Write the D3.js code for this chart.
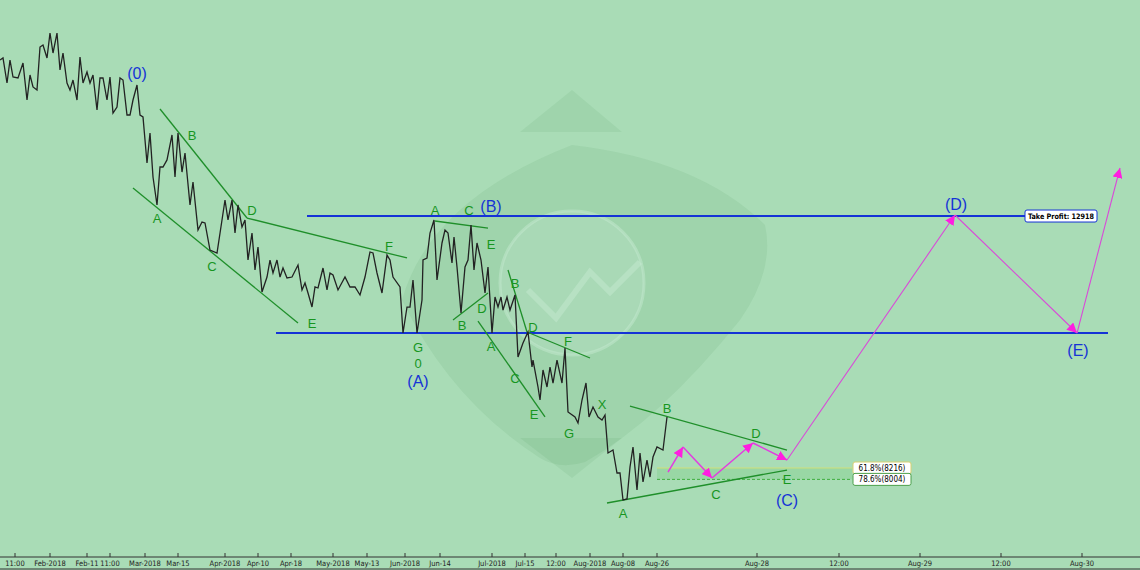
<!DOCTYPE html>
<html><head><meta charset="utf-8">
<script src="https://cdn.jsdelivr.net/npm/d3@7"></script>
<style>body{margin:0;background:#a9dcb6;overflow:hidden}</style>
</head><body>
<script>
var w = 1140, h = 570;

// price path: bar index and close
var bars = [0,3,7,10,13,18,23,27,30,33,37,40,43,47,50,53,57,60,63,67,70,73,77,80,83,87,90,93,97,100,103,107,110,113,117,120,123,127,130,133,137,140,143,147,150,153,157,160,163,167,172,175,178,182,185,190,193,198,202,205,210,217,222,225,228,232,235,238,242,245,248,252,255,258,262,267,270,273,277,280,283,287,292,298,302,305,308,312,315,318,323,327,330,333,338,345,350,355,360,365,370,373,377,382,387,390,393,400,403,407,410,413,417,422,423,427,430,434,437,442,445,448,452,454,457,461,465,468,471,474,477,481,485,488,492,495,498,501,503,507,510,515,518,523,528,532,533,538,540,543,547,550,553,557,562,565,568,575,578,582,586,589,593,598,602,605,608,613,617,620,623,627,630,633,637,640,643,647,650,653,657,663,667];
var closes = [15829,15867,15400,15829,15512,15494,15773,15083,15550,15326,15270,16072,16109,15867,16333,15960,16333,15643,15960,15400,15270,15456,15083,15885,15400,15606,15400,15550,14896,15494,15494,15083,15512,14840,14952,15494,15456,14803,14803,15083,15363,14803,14766,13907,14467,13646,13124,13833,13833,13965,14430,13646,14467,13739,14094,13124,13553,12657,12806,12788,12284,12228,12844,13217,12844,13217,12601,13124,12713,12844,12097,12601,11911,12340,11500,11780,12097,11855,12097,11780,11948,11762,11780,12004,11538,11668,11482,11220,11594,11575,11948,11538,11855,11818,11538,11780,11594,11594,11444,11780,12247,12228,11855,11482,12190,12097,11780,11594,10735,11220,11220,11724,10735,11351,12097,12135,12601,12844,11724,12415,12657,12601,12041,12527,11967,11108,11967,12097,12751,11911,12415,12097,11482,11967,10735,11407,11220,11407,11164,11407,11164,11444,10287,10549,10754,10101,10231,9728,9485,10045,9728,10101,9802,10231,9802,10455,9261,9168,9056,9485,9802,9168,9354,9168,9112,9205,8496,8552,8123,8123,7619,7638,8235,8608,7806,8496,7955,8365,8048,8421,8608,8552,9168,8309];

// green trend lines [bar1, price1, bar2, price2]
var greenLines = [
  [160,14915,247,12881],[133,13441,298,10922],[247,12881,407,12135],
  [435,12825,488,12694],[453,10978,488,11482],[478,10959,545,9168],
  [508,11911,527,10754],[527,10754,590,10269],[630,9373,787,8552],[607,7563,787,8178]
];
var blueLines = [[307,1025,12918],[276,1108,10735]];
var waveLabels = [["B",192,14430],["A",157,12881],["D",252,13031],["C",212,11985],["E",312,10922],["F",389,12359],
  ["G",418,10474],["0",418,10176],["A",435,13031],["C",469,13031],["E",491,12396],["B",462,10885],["D",482,11202],
  ["A",491,10493],["B",515,11668],["D",533,10847],["F",568,10586],["C",515,9896],["E",534,9224],["G",569,8869],
  ["X",602,9410],["B",667,9336],["D",756,8869],["E",787,8004],["C",716,7731],["A",623,7376]];
var degreeLabels = [["(0)",137,15587],["(B)",491,13105],["(A)",418,9840],["(C)",787,7619],["(D)",956,13142],["(E)",1078,10418]];
// projected path
var projBars = [668,683,712,753,787,955,1077,1120];
var projPrices = [8141,8608,8029,8683,8365,12937,10735,13814];
var fibLevels = [["61.8%(8216)",8216],["78.6%(8004)",8004]];
var tickLabels = [["11:00",15],["Feb-2018",50],["Feb-11",87],["11:00",110],["Mar-2018",145],["Mar-15",178],["Apr-2018",225],
  ["Apr-10",258],["Apr-18",291],["May-2018",333],["May-13",367],["Jun-2018",405],["Jun-14",440],["Jul-2018",492],["Jul-15",525],
  ["12:00",556],["Aug-2018",590],["Aug-08",623],["Aug-26",657],["Aug-28",757],["12:00",839],["Aug-29",920],["12:00",1001],["Aug-30",1082]];

var x = d3.scaleLinear().domain([0, 1140]).range([0, w]);
var y = d3.scaleLinear().domain([6313, 16949]).range([570, 0]);
var narrow = "DejaVu Sans Condensed, Liberation Sans Narrow, sans-serif";

var svg = d3.select("body").append("svg").attr("width", w).attr("height", h);
svg.append("rect").attr("width", w).attr("height", h).attr("fill", "#a9dcb6");

// watermark
var wm = svg.append("g").attr("fill", "#1f6b2f").attr("fill-opacity", 0.07);
wm.append("path").attr("d", "M402,300 Q430,200 572,145 Q700,160 765,225 Q775,270 740,320 Q660,420 585,462 Q560,470 540,458 Q450,400 402,300Z");
wm.append("path").attr("d", "M520,132 L572,90 L622,132Z");
wm.append("path").attr("d", "M520,438 L622,438 L572,478Z");
svg.append("circle").attr("cx", 572).attr("cy", 283).attr("r", 72)
   .attr("fill", "#cfeeda").attr("fill-opacity", 0.22).attr("stroke", "#c8ecd2").attr("stroke-opacity", 0.45).attr("stroke-width", 3);
svg.append("path").attr("d", "M528,290 L556,318 L590,272 L610,292 L640,262")
   .attr("fill", "none").attr("stroke", "#c8ecd2").attr("stroke-opacity", 0.45).attr("stroke-width", 6);

// fib zone
svg.append("rect").attr("x", x(657)).attr("y", y(8216)).attr("width", x(852) - x(657))
   .attr("height", y(8004) - y(8216)).attr("fill", "#8fd39a").attr("opacity", 0.6);
fibLevels.forEach(function(d, i) {
  svg.append("line").attr("x1", x(657)).attr("x2", x(852)).attr("y1", y(d[1])).attr("y2", y(d[1]))
     .attr("stroke", i == 0 ? "#cfe07a" : "#3fae3f").attr("stroke-dasharray", i == 0 ? null : "3,2");
  var g = svg.append("g").attr("transform", "translate(" + (x(852) + 1) + "," + y(d[1]) + ")");
  g.append("rect").attr("x", 0).attr("y", -6).attr("width", 58).attr("height", 12).attr("rx", 2)
   .attr("fill", "#fff").attr("stroke", i == 0 ? "#d8cf70" : "#4aa04a");
  g.append("text").attr("x", 29).attr("y", 3).attr("text-anchor", "middle").attr("font-size", 8)
   .attr("font-family", narrow).text(d[0]);
});

// blue lines
svg.selectAll(".blue").data(blueLines).enter().append("line")
   .attr("x1", function(d) { return x(d[0]); }).attr("x2", function(d) { return x(d[1]); })
   .attr("y1", function(d) { return y(d[2]); }).attr("y2", function(d) { return y(d[2]); })
   .attr("stroke", "#1533d6").attr("stroke-width", 2);
var tp = svg.append("g").attr("transform", "translate(" + x(1025) + "," + y(12918) + ")");
tp.append("rect").attr("x", 0).attr("y", -6).attr("width", 72).attr("height", 12).attr("rx", 2)
  .attr("fill", "#fff").attr("stroke", "#1533d6");
tp.append("text").attr("x", 36).attr("y", 3).attr("text-anchor", "middle").attr("font-size", 7.5).attr("font-weight", "bold")
  .attr("textLength", 66).attr("lengthAdjust", "spacingAndGlyphs")
  .attr("font-family", narrow).text("Take Profit: 12918");

// green lines
svg.selectAll(".green").data(greenLines).enter().append("line")
   .attr("x1", function(d) { return x(d[0]); }).attr("y1", function(d) { return y(d[1]); })
   .attr("x2", function(d) { return x(d[2]); }).attr("y2", function(d) { return y(d[3]); })
   .attr("stroke", "#1f8f2a").attr("stroke-width", 1.3);

// price line
var line = d3.line().x(function(d, i) { return x(bars[i]); }).y(function(d) { return y(d); });
svg.append("path").datum(closes).attr("d", line).attr("fill", "none").attr("stroke", "#222").attr("stroke-width", 1.3);

// projection arrows
svg.append("defs").append("marker").attr("id", "ah").attr("viewBox", "0 0 10 10").attr("refX", 10).attr("refY", 5)
   .attr("markerWidth", 10).attr("markerHeight", 10).attr("markerUnits", "userSpaceOnUse").attr("orient", "auto")
   .append("path").attr("d", "M0,0 L10,5 L0,10Z").attr("fill", "#ff1ee0");
for (var i = 0; i < projBars.length - 1; i++) {
  svg.append("line").attr("x1", x(projBars[i])).attr("y1", y(projPrices[i]))
     .attr("x2", x(projBars[i + 1])).attr("y2", y(projPrices[i + 1]))
     .attr("stroke", i < 4 ? "#e23ce0" : "#d94ad8").attr("stroke-width", i < 4 ? 1.5 : 1.1).attr("marker-end", "url(#ah)");
}

// labels
svg.selectAll(".wl").data(waveLabels).enter().append("text")
   .attr("x", function(d) { return x(d[1]); }).attr("y", function(d) { return y(d[2]); })
   .attr("dy", "0.35em").attr("text-anchor", "middle").attr("font-size", 13)
   .attr("font-family", "Liberation Sans, Arial, sans-serif").attr("fill", "#17961f").text(function(d) { return d[0]; });
svg.selectAll(".dl").data(degreeLabels).enter().append("text")
   .attr("x", function(d) { return x(d[1]); }).attr("y", function(d) { return y(d[2]); })
   .attr("dy", "0.35em").attr("text-anchor", "middle").attr("font-size", 16)
   .attr("font-family", "Liberation Sans, Arial, sans-serif").attr("fill", "#1533d6").text(function(d) { return d[0]; });

// time axis
svg.append("line").attr("x1", 0).attr("x2", w).attr("y1", 557).attr("y2", 557).attr("stroke", "#333");
svg.append("line").attr("x1", 0).attr("x2", w).attr("y1", 569).attr("y2", 569).attr("stroke", "#333");
svg.selectAll(".tk").data(tickLabels).enter().append("line")
   .attr("x1", function(d) { return x(d[1]); }).attr("x2", function(d) { return x(d[1]); })
   .attr("y1", 553).attr("y2", 557).attr("stroke", "#333");
svg.selectAll(".tl").data(tickLabels).enter().append("text")
   .attr("x", function(d) { return x(d[1]); }).attr("y", 566).attr("text-anchor", "middle")
   .attr("font-size", 7.5).attr("font-family", narrow)
   .attr("fill", "#222").text(function(d) { return d[0]; });
</script>
</body></html>
